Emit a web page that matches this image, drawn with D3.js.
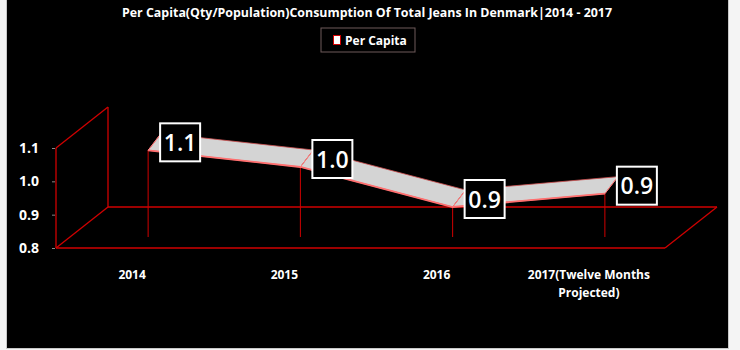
<!DOCTYPE html>
<html>
<head>
<meta charset="utf-8">
<script src="https://cdn.jsdelivr.net/npm/d3@7"></script>
<style>
  body { margin: 0; background: #ffffff; }
  text { font-family: "Open Sans", "DejaVu Sans", sans-serif; }
</style>
</head>
<body>
<div id="canvas"></div>
<script>
"use strict";

let svgWidth = 740;
let svgHeight = 350;

/* === Data === */
let categories = ["2014", "2015", "2016", "2017(Twelve Months Projected)"];
let tickLines = [["2014"], ["2015"], ["2016"], ["2017(Twelve Months", "Projected)"]];
let perCapita = [1.06, 1.01, 0.89, 0.93];
let yTicks = [0.8, 0.9, 1.0, 1.1];
let seriesName = "Per Capita";
let title = "Per Capita(Qty/Population)Consumption Of Total Jeans In Denmark|2014 - 2017";

/* === Plot geometry (3D look) === */
let plotLeft = 56, plotRight = 665;
let depth = { dx: 52, dy: -41 };      // full floor depth
let front = { dx: 16, dy: -11 };      // ribbon front edge offset
let back = { dx: 29, dy: -28 };       // ribbon back edge offset
let red = "#d00000";

let xScale = d3.scaleBand()
  .domain(categories)
  .range([plotLeft, plotRight]);

let yScale = d3.scaleLinear()
  .domain([0.8, 1.1])
  .range([248, 148]);

let svg = d3.select("#canvas")
  .append("svg")
  .attr("width", svgWidth)
  .attr("height", svgHeight);

/* === Frame / background === */
svg.append("rect")
  .attr("width", svgWidth).attr("height", svgHeight)
  .attr("fill", "#f4f4f4");
svg.append("rect")
  .attr("x", 6.5).attr("y", -1).attr("width", 722).attr("height", 349.5)
  .attr("fill", "#000").attr("stroke", "#c8c8c8");

/* === Title === */
svg.append("text")
  .attr("x", 367).attr("y", 17)
  .attr("text-anchor", "middle")
  .attr("font-size", "11.5px")
  .attr("font-weight", "bold")
  .attr("fill", "#fff")
  .attr("textLength", 490)
  .attr("lengthAdjust", "spacingAndGlyphs")
  .text(title);

/* === Legend === */
let legend = svg.append("g").attr("transform", "translate(321, 28)");
legend.append("rect")
  .attr("width", 94).attr("height", 24)
  .attr("fill", "none").attr("stroke", "#6e5a5a");
legend.append("rect")
  .attr("x", 12.5).attr("y", 7.5).attr("width", 7).attr("height", 9)
  .attr("fill", "#fff").attr("stroke", red);
legend.append("text")
  .attr("x", 24).attr("y", 17)
  .attr("font-size", "12px")
  .attr("font-weight", "bold")
  .attr("fill", "#fff")
  .text(seriesName);

/* === Walls and floor === */
let y0 = yScale(0.8), yTop = yScale(1.1);
let frameLines = [
  [[plotLeft, yTop], [plotLeft, y0]],
  [[plotLeft, yTop], [plotLeft + depth.dx, yTop + depth.dy]],
  [[plotLeft + depth.dx, yTop + depth.dy], [plotLeft + depth.dx, y0 + depth.dy]],
  [[plotLeft, y0], [plotLeft + depth.dx, y0 + depth.dy]],
  [[plotLeft + depth.dx, y0 + depth.dy], [plotRight + depth.dx, y0 + depth.dy]],
  [[plotLeft, y0], [plotRight, y0]],
  [[plotRight, y0], [plotRight + depth.dx, y0 + depth.dy]]
];
svg.append("g").selectAll("line")
  .data(frameLines)
  .enter().append("line")
  .attr("x1", d => d[0][0]).attr("y1", d => d[0][1])
  .attr("x2", d => d[1][0]).attr("y2", d => d[1][1])
  .attr("stroke", red).attr("stroke-width", 1.3);

/* === Y axis === */
let yAxis = svg.append("g")
  .attr("transform", `translate(${plotLeft - 1}, 0)`)
  .call(d3.axisLeft(yScale).tickValues(yTicks).tickSize(3).tickPadding(13).tickFormat(d3.format(".1f")));
yAxis.select(".domain").remove();
yAxis.selectAll(".tick line").attr("stroke", "#888");
yAxis.selectAll(".tick text")
  .attr("fill", "#fff")
  .attr("font-size", "14px")
  .attr("font-weight", "bold")
  .attr("font-family", "\"Open Sans\", sans-serif");

/* === X labels === */
let xLabels = svg.append("g").selectAll("text")
  .data(categories)
  .enter().append("text")
  .attr("x", d => xScale(d) + xScale.bandwidth() / 2)
  .attr("y", 279)
  .attr("text-anchor", "middle")
  .attr("font-size", "12px")
  .attr("font-weight", "bold")
  .attr("fill", "#fff");
xLabels.each(function(d, i) {
  d3.select(this).selectAll("tspan")
    .data(tickLines[i])
    .enter().append("tspan")
    .attr("x", xScale(d) + xScale.bandwidth() / 2)
    .attr("dy", (t, j) => j === 0 ? 0 : 18)
    .text(t => t);
});

/* === Ribbon points === */
let pts = categories.map((c, i) => {
  let cx = xScale(c) + xScale.bandwidth() / 2;
  let cy = yScale(perCapita[i]);
  return {
    value: perCapita[i],
    fx: cx + front.dx, fy: cy + front.dy,
    bx: cx + back.dx, by: cy + back.dy,
    baseY: y0 + front.dy
  };
});

/* === Drop lines === */
svg.append("g").selectAll("line")
  .data(pts)
  .enter().append("line")
  .attr("x1", d => d.fx).attr("y1", d => d.fy)
  .attr("x2", d => d.fx).attr("y2", d => d.baseY)
  .attr("stroke", red).attr("stroke-width", 1);

/* === Ribbon segments === */
let segs = d3.pairs(pts);
let ribbon = svg.append("g");
ribbon.selectAll("polygon")
  .data(segs)
  .enter().append("polygon")
  .attr("points", d => [[d[0].fx, d[0].fy], [d[1].fx, d[1].fy], [d[1].bx, d[1].by], [d[0].bx, d[0].by]].join(" "))
  .attr("fill", "#d4d4d4")
  .attr("stroke", "#d05050")
  .attr("stroke-width", 0.8);
ribbon.append("path")
  .attr("d", d3.line().x(d => d.fx).y(d => d.fy)(pts))
  .attr("fill", "none")
  .attr("stroke", "#ff7070")
  .attr("stroke-width", 1.8);
ribbon.selectAll("line.cap")
  .data(pts)
  .enter().append("line")
  .classed("cap", true)
  .attr("x1", d => d.fx).attr("y1", d => d.fy)
  .attr("x2", d => d.bx).attr("y2", d => d.by)
  .attr("stroke", "#ff8080").attr("stroke-width", 1);

/* === Data labels === */
let labels = svg.append("g").selectAll("g")
  .data(pts)
  .enter().append("g")
  .attr("transform", d => `translate(${d.fx + 32}, ${d.fy - 8})`);
labels.append("rect")
  .attr("x", -20).attr("y", -19).attr("width", 40).attr("height", 38)
  .attr("fill", "#000").attr("stroke", "#fff").attr("stroke-width", 2);
labels.append("text")
  .attr("text-anchor", "middle")
  .attr("y", 8.5)
  .attr("font-size", "23px")
  .attr("font-weight", "600")
  .attr("fill", "#fff")
  .text(d => d3.format(".1f")(d.value));
</script>
</body>
</html>
